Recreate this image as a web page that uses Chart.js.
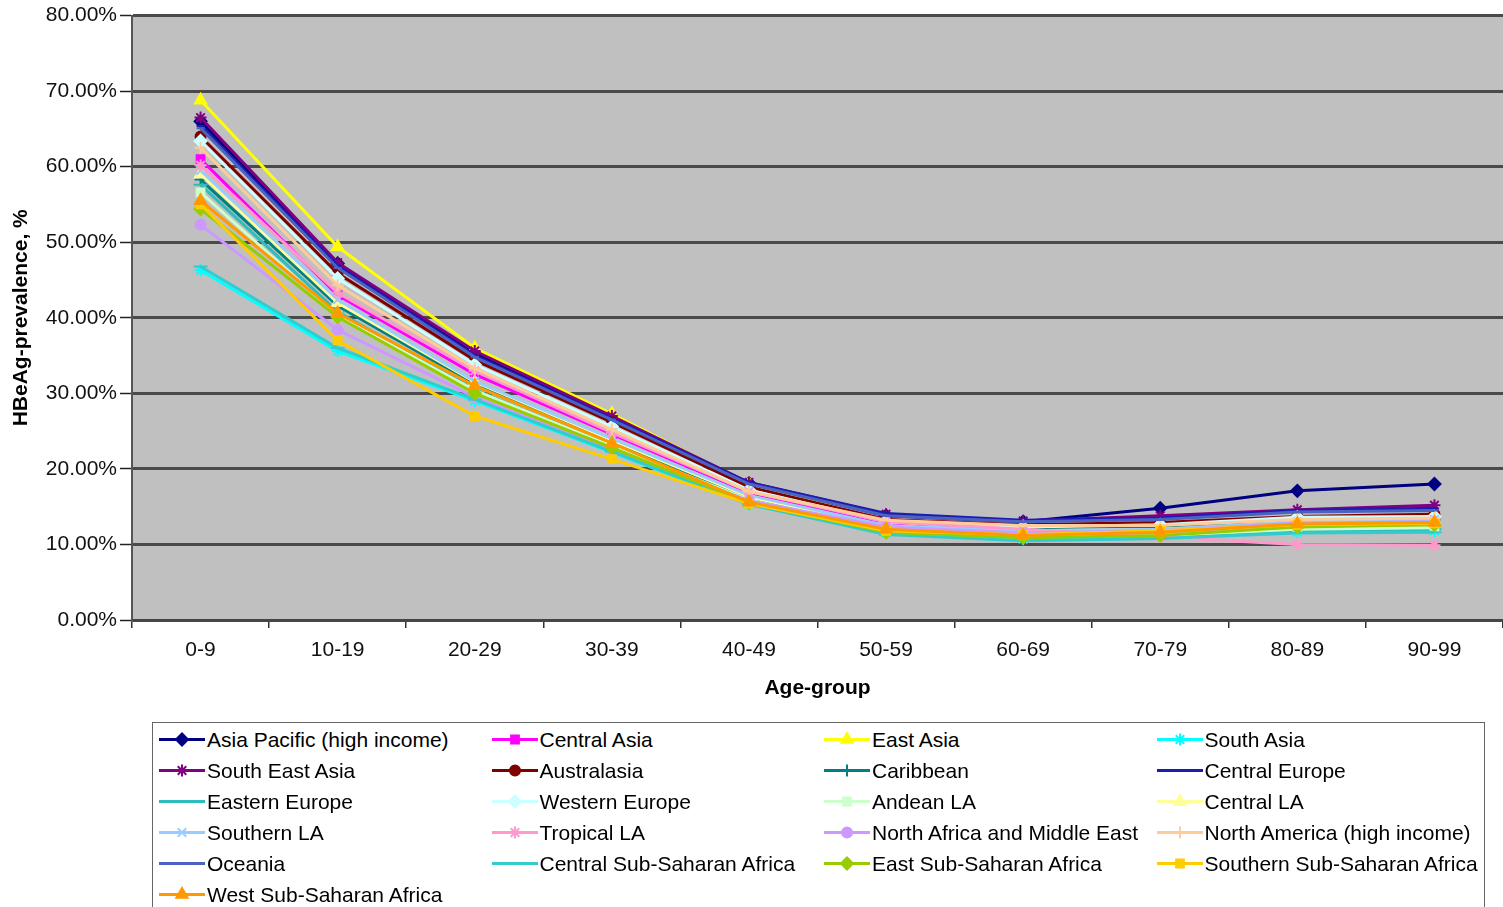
<!DOCTYPE html>
<html>
<head>
<meta charset="utf-8">
<title>HBeAg prevalence by age group</title>
<script src="https://cdn.jsdelivr.net/npm/chart.js@4/dist/chart.umd.min.js"></script>
<style>
  html, body { margin: 0; padding: 0; background: #ffffff; overflow: hidden; }
  body { width: 1503px; height: 907px; position: relative; }
  #wrap { position: absolute; left: 0; top: 0; width: 1503px; height: 710px; }
  #legend {
    position: absolute; left: 152px; top: 722px; width: 1333px; height: 200px;
    box-sizing: border-box; border: 1.5px solid #666; background: #fff;
    display: grid; grid-template-columns: repeat(4, 332.5px); grid-auto-rows: 31px;
    padding: 1px 0 0 5px;
    font-family: "Liberation Sans", Arial, sans-serif; font-size: 21px; color: #000;
  }
  .item { display: flex; align-items: center; white-space: nowrap; }
  .item canvas { width: 48px; height: 31px; flex: none; }
  .item span { margin-left: 1px; }
</style>
</head>
<body>
<div id="wrap"><canvas id="chart"></canvas></div>
<div id="legend"></div>
<script>
// Age groups on the x axis
const ageGroups = ['0-9', '10-19', '20-29', '30-39', '40-49', '50-59', '60-69', '70-79', '80-89', '90-99'];

// Y axis range and step (percent)
const yTicks = { min: 0, max: 80, step: 10 };

// HBeAg prevalence (%) per region, one value per age group
const asiaPacificHighIncome  = [66.0, 47.2, 35.3, 26.9, 18.1, 13.8, 13.0, 14.8, 17.1, 18.0];
const centralAsia            = [61.0, 43.0, 32.5, 24.6, 16.8, 12.8, 12.0, 12.2, 13.0, 13.2];
const eastAsia               = [68.8, 49.4, 36.0, 27.3, 18.0, 13.0, 12.0, 12.0, 12.8, 13.2];
const southAsia              = [46.3, 35.6, 29.0, 22.2, 15.3, 11.5, 10.7, 11.0, 11.6, 11.8];
const southEastAsia          = [66.5, 47.3, 35.6, 27.0, 18.2, 14.0, 13.1, 13.8, 14.6, 15.2];
const australasia            = [64.0, 45.9, 34.4, 26.2, 17.6, 13.3, 12.6, 12.9, 13.7, 14.0];
const caribbean              = [58.3, 41.6, 31.2, 23.6, 16.2, 12.4, 11.9, 12.4, 13.0, 13.3];
const centralEurope          = [65.4, 46.9, 35.0, 26.7, 18.2, 14.1, 13.2, 13.5, 14.5, 14.8];
const easternEurope          = [57.6, 40.8, 30.5, 23.0, 15.9, 11.9, 11.0, 11.1, 11.8, 12.0];
const westernEurope          = [63.4, 45.2, 33.8, 25.6, 17.2, 13.0, 12.3, 12.6, 13.6, 13.7];
const andeanLA               = [56.6, 40.3, 30.4, 23.0, 15.9, 11.8, 11.0, 11.2, 12.0, 12.2];
const centralLA              = [59.0, 42.0, 31.5, 23.8, 16.3, 12.3, 11.8, 12.0, 12.8, 13.0];
const southernLA             = [59.5, 42.4, 31.6, 24.0, 16.5, 12.5, 11.8, 12.0, 13.0, 13.3];
const tropicalLA             = [60.2, 43.3, 33.0, 24.8, 17.0, 13.0, 12.0, 11.0, 10.0, 9.9];
const northAfricaMiddleEast  = [52.3, 38.4, 29.5, 22.5, 15.8, 12.3, 11.5, 11.8, 12.8, 13.0];
const northAmericaHighIncome = [62.5, 44.3, 33.3, 25.2, 17.0, 13.2, 12.5, 12.5, 13.3, 13.5];
const oceania                = [65.1, 46.6, 34.8, 26.5, 18.0, 13.8, 13.0, 13.3, 14.3, 14.5];
const centralSubSaharan      = [46.8, 36.0, 29.2, 22.3, 15.3, 11.3, 10.5, 10.8, 11.5, 11.6];
const eastSubSaharan         = [54.4, 40.1, 30.0, 22.8, 15.5, 11.6, 10.9, 11.2, 12.3, 12.6];
const southernSubSaharan     = [55.0, 37.0, 27.0, 21.3, 15.4, 11.8, 11.3, 11.8, 12.6, 12.8];
const westSubSaharan         = [55.5, 40.6, 31.0, 23.4, 15.6, 12.0, 11.2, 11.6, 12.7, 12.9];

// Region names, in legend order
const regionNames = [
  'Asia Pacific (high income)', 'Central Asia', 'East Asia', 'South Asia',
  'South East Asia', 'Australasia', 'Caribbean', 'Central Europe',
  'Eastern Europe', 'Western Europe', 'Andean LA', 'Central LA',
  'Southern LA', 'Tropical LA', 'North Africa and Middle East', 'North America (high income)',
  'Oceania', 'Central Sub-Saharan Africa', 'East Sub-Saharan Africa', 'Southern Sub-Saharan Africa',
  'West Sub-Saharan Africa'
];
const regionValues = [
  asiaPacificHighIncome, centralAsia, eastAsia, southAsia,
  southEastAsia, australasia, caribbean, centralEurope,
  easternEurope, westernEurope, andeanLA, centralLA,
  southernLA, tropicalLA, northAfricaMiddleEast, northAmericaHighIncome,
  oceania, centralSubSaharan, eastSubSaharan, southernSubSaharan,
  westSubSaharan
];

// Line colours and marker shapes per series
const seriesColors = [
  '#000080', '#FF00FF', '#FFFF00', '#00FFFF',
  '#800080', '#800000', '#008080', '#1c1cb0',
  '#2fbcbc', '#CCFFFF', '#CCFFCC', '#FFFF99',
  '#99CCFF', '#FF99CC', '#CC99FF', '#FFCC99',
  '#4a62c0', '#33CCCC', '#99CC00', '#FFCC00',
  '#FF9900'
];
const markerStyles = [
  { style: 'rectRot', r: 6 }, { style: 'rect', r: 5.5 }, { style: 'triangle', r: 6.5 }, { style: 'star', r: 6 },
  { style: 'star', r: 6 }, { style: 'circle', r: 5 }, { style: 'cross', r: 6 }, { style: 'line', r: 4 },
  { style: 'line', r: 7 }, { style: 'rectRot', r: 6 }, { style: 'rect', r: 5.5 }, { style: 'triangle', r: 6.5 },
  { style: 'crossRot', r: 6 }, { style: 'star', r: 6 }, { style: 'circle', r: 5 }, { style: 'cross', r: 6 },
  { style: 'line', r: 4 }, { style: 'line', r: 7 }, { style: 'rectRot', r: 6 }, { style: 'rect', r: 5.5 },
  { style: 'triangle', r: 6.5 }
];

const FONT = '"Liberation Sans", Arial, sans-serif';
const n = regionNames.length;

const datasets = regionNames.map((name, i) => ({
  label: name,
  data: regionValues[i],
  borderColor: seriesColors[i],
  backgroundColor: seriesColors[i],
  borderWidth: 3,
  tension: 0,
  fill: false,
  pointStyle: markerStyles[i].style,
  pointRadius: markerStyles[i].r,
  pointHoverRadius: markerStyles[i].r,
  pointBackgroundColor: seriesColors[i],
  pointBorderColor: seriesColors[i],
  pointBorderWidth: 2,
  order: n - i
}));

// Grey plot background behind the grid
const plotBackground = {
  id: 'plotBackground',
  beforeDraw(chart) {
    const { ctx, chartArea: a } = chart;
    ctx.save();
    ctx.fillStyle = '#C0C0C0';
    ctx.fillRect(a.left, a.top, a.right - a.left, a.bottom - a.top);
    ctx.restore();
  }
};

new Chart(document.getElementById('chart'), {
  type: 'line',
  data: { labels: ageGroups, datasets },
  plugins: [plotBackground],
  options: {
    responsive: true,
    maintainAspectRatio: false,
    animation: false,
    events: [],
    layout: { autoPadding: false, padding: { top: 15, left: 0, right: 0, bottom: 0 } },
    plugins: { legend: { display: false }, tooltip: { enabled: false } },
    scales: {
      x: {
        offset: true,
        afterFit(scale) { scale.height = 90; },
        grid: { offset: true, drawOnChartArea: false, drawTicks: true, tickLength: 8, color: '#333', lineWidth: 1.5 },
        border: { display: true, color: '#444', width: 2 },
        ticks: { padding: 10, autoSkip: false, maxRotation: 0, color: '#111', font: { family: FONT, size: 21 } },
        title: { display: true, text: 'Age-group', color: '#000', padding: { top: 9, bottom: 9 },
                 font: { family: FONT, size: 21, weight: 'bold' } }
      },
      y: {
        min: yTicks.min,
        max: yTicks.max,
        afterFit(scale) { scale.width = 132; },
        grid: { color: '#4a4a4a', lineWidth: 3, tickLength: 12, tickColor: '#222', tickWidth: 1.5 },
        border: { display: true, color: '#555', width: 2 },
        ticks: {
          stepSize: yTicks.step, padding: 3, color: '#111',
          font: { family: FONT, size: 21 },
          callback: v => Number(v).toFixed(2) + '%'
        },
        title: { display: true, text: 'HBeAg-prevalence, %', color: '#000', padding: { top: 9, bottom: 0 },
                 font: { family: FONT, size: 21, weight: 'bold' } }
      }
    }
  }
});

// Legend: line segment with marker, then the region name
function drawMarker(ctx, style, r, x, y) {
  if (window.Chart && Chart.helpers && Chart.helpers.drawPoint) {
    Chart.helpers.drawPoint(ctx, { pointStyle: style, radius: r, rotation: 0, borderWidth: 2 }, x, y);
    return;
  }
  ctx.beginPath();
  ctx.arc(x, y, r, 0, Math.PI * 2);
  ctx.fill();
}
const legendEl = document.getElementById('legend');
regionNames.forEach((name, i) => {
  const item = document.createElement('div');
  item.className = 'item';
  const c = document.createElement('canvas');
  c.width = 48; c.height = 31;
  const ctx = c.getContext('2d');
  ctx.strokeStyle = seriesColors[i];
  ctx.fillStyle = seriesColors[i];
  ctx.lineWidth = 3;
  ctx.beginPath();
  ctx.moveTo(1, 15.5);
  ctx.lineTo(47, 15.5);
  ctx.stroke();
  ctx.lineWidth = 2;
  drawMarker(ctx, markerStyles[i].style, markerStyles[i].r, 24, 15.5);
  const label = document.createElement('span');
  label.textContent = name;
  item.appendChild(c);
  item.appendChild(label);
  legendEl.appendChild(item);
});
</script>
</body>
</html>
